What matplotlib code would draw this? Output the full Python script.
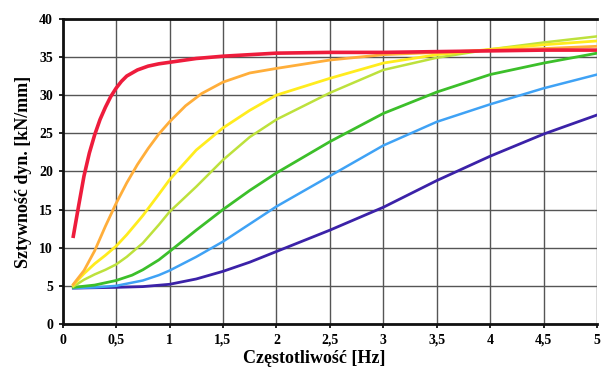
import matplotlib.pyplot as plt

plt.rcParams['font.family'] = ['Liberation Serif', 'DejaVu Serif']
plt.rcParams['font.weight'] = 'bold'

# frequency [Hz] / dynamic stiffness [kN/mm]
x_red = [0.1, 0.15, 0.2, 0.25, 0.3, 0.35, 0.4, 0.45, 0.5, 0.55, 0.6, 0.7, 0.8, 0.9, 1.0, 1.25,
         1.5, 2.0, 2.5, 3.0, 3.5, 4.0, 4.5, 5.0]
y_red = [11.5, 15.5, 19.4, 22.4, 24.8, 26.8, 28.4, 29.8, 30.9, 31.8, 32.5, 33.3, 33.8, 34.1, 34.3, 34.8,
         35.1, 35.5, 35.6, 35.6, 35.7, 35.8, 35.9, 35.9]

x_orange = [0.1, 0.2, 0.3, 0.4, 0.5, 0.6, 0.7, 0.8, 0.9, 1.0, 1.15, 1.3, 1.5, 1.75, 2.0, 2.5,
            3.0, 3.5, 4.0, 4.5, 5.0]
y_orange = [5.2, 7.0, 9.6, 12.8, 15.8, 18.5, 20.9, 23.0, 24.9, 26.5, 28.6, 30.2, 31.7, 32.9, 33.5, 34.6,
            35.3, 35.6, 35.9, 36.1, 36.4]

x_yellow = [0.1, 0.2, 0.3, 0.4, 0.5, 0.6, 0.75, 0.9, 1.0, 1.25, 1.5, 1.75, 2.0, 2.5, 3.0, 3.5,
            4.0, 4.5, 5.0]
y_yellow = [5.1, 6.6, 7.9, 9.0, 10.2, 11.7, 14.2, 17.0, 18.9, 22.8, 25.7, 28.0, 30.0, 32.2, 34.2, 35.3,
            36.0, 36.6, 37.1]

x_lime = [0.1, 0.2, 0.3, 0.4, 0.5, 0.6, 0.75, 0.9, 1.0, 1.25, 1.5, 1.75, 2.0, 2.5, 3.0, 3.5,
          4.0, 4.5, 5.0]
y_lime = [4.9, 5.8, 6.5, 7.1, 7.8, 8.8, 10.6, 13.0, 14.7, 18.0, 21.5, 24.5, 26.8, 30.3, 33.3, 34.9,
          36.0, 36.9, 37.7]

x_green = [0.1, 0.3, 0.5, 0.65, 0.75, 0.9, 1.0, 1.25, 1.5, 1.75, 2.0, 2.5, 3.0, 3.5, 4.0, 4.5, 5.0]
y_green = [4.8, 5.1, 5.7, 6.4, 7.1, 8.4, 9.5, 12.3, 15.0, 17.5, 19.8, 23.9, 27.6, 30.4, 32.7, 34.2, 35.5]

x_blue = [0.1, 0.3, 0.5, 0.75, 0.9, 1.0, 1.25, 1.5, 1.75, 2.0, 2.5, 3.0, 3.5, 4.0, 4.5, 5.0]
y_blue = [4.7, 4.8, 5.0, 5.7, 6.4, 7.0, 8.8, 10.8, 13.1, 15.4, 19.4, 23.4, 26.5, 28.8, 30.9, 32.7]

x_purple = [0.1, 0.5, 0.75, 1.0, 1.25, 1.5, 1.75, 2.0, 2.25, 2.5, 3.0, 3.5, 4.0, 4.5, 5.0]
y_purple = [4.7, 4.8, 4.9, 5.2, 5.9, 6.9, 8.1, 9.5, 10.9, 12.3, 15.3, 18.8, 22.0, 24.9, 27.4]

x_ticks = [0, 0.5, 1, 1.5, 2, 2.5, 3, 3.5, 4, 4.5, 5]
x_labels = ['0', '0,5', '1', '1,5', '2', '2,5', '3', '3,5', '4', '4,5', '5']
y_ticks = [0, 5, 10, 15, 20, 25, 30, 35, 40]

fig = plt.figure(figsize=(6.02, 3.69), dpi=100)
ax = fig.add_axes([0.104, 0.122, 0.888, 0.827])

ax.plot(x_purple, y_purple, color='#3b22a8', lw=2.0)
ax.plot(x_blue, y_blue, color='#3fa2f5', lw=1.8)
ax.plot(x_green, y_green, color='#3cbf2a', lw=2.0)
ax.plot(x_lime, y_lime, color='#bde13c', lw=1.8)
ax.plot(x_yellow, y_yellow, color='#ffec1e', lw=2.0)
ax.plot(x_orange, y_orange, color='#ffae3a', lw=2.0)
ax.plot(x_red, y_red, color='#ee1c3c', lw=2.6)

ax.set_xlim(0, 5)
ax.set_ylim(0, 40)
ax.set_xticks(x_ticks)
ax.set_xticklabels(x_labels)
ax.set_yticks(y_ticks)
ax.grid(True, color='#555555', lw=1.0)
ax.set_axisbelow(True)

for side in ['left', 'bottom', 'top']:
    ax.spines[side].set_linewidth(2.0)
    ax.spines[side].set_color('#111111')
ax.spines['right'].set_visible(False)
ax.tick_params(direction='out', length=3, width=1.2, labelsize=10, pad=4)

ax.set_xlabel('Częstotliwość [Hz]', fontsize=13, fontweight='bold')
ax.xaxis.set_label_coords(0.47, -0.085)
ax.set_ylabel('Sztywność dyn. [kN/mm]', fontsize=13, fontweight='bold', labelpad=5)

fig.savefig('out.png', dpi=100)
